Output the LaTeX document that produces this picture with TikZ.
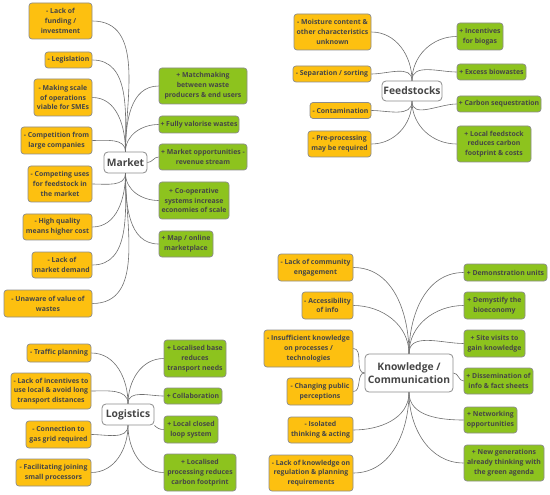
\documentclass[tikz,border=0pt]{standalone}
\usepackage{fontspec}
\setmainfont{Open Sans}
\definecolor{negfill}{HTML}{FDC010}
\definecolor{posfill}{HTML}{8DC31E}
\definecolor{boxline}{HTML}{8C8C8C}
\definecolor{txt}{HTML}{464646}
\definecolor{conncol}{HTML}{6E6E6E}
\tikzset{
  box/.style={draw=boxline, line width=0.7pt, rounded corners=3pt, align=center, inner sep=0pt,
    text=txt, font=\fontsize{6.9}{9.8}\selectfont\bfseries},
  negbox/.style={box, fill=negfill},
  posbox/.style={box, fill=posfill},
  hub/.style={draw=boxline, line width=0.8pt, rounded corners=4pt, fill=white, align=center, inner sep=0pt,
    text=txt, font=\fontsize{10.3}{13.5}\selectfont\bfseries},
  conn/.style={draw=conncol, line width=0.6pt},
  sz/.style 2 args={minimum width=#1pt, minimum height=#2pt}
}
\begin{document}
\begin{tikzpicture}[x=1pt,y=-1pt]
\useasboundingbox (0,0) rectangle (550,495);
% ---------------- Market ----------------
\node[hub, sz={43}{21}] (M) at (125.5,162.5) {Market};
\node[negbox, sz={63}{36}] (m1) at (60.5,21) {- Lack of\\funding /\\investment};
\node[negbox, sz={47}{16}] (m2) at (68.5,60) {- Legislation};
\node[negbox, sz={58}{37}] (m3) at (63,97.5) {- Making scale\\of operations\\viable for SMEs};
\node[negbox, sz={71}{27}] (m4) at (56.5,140.5) {- Competition from\\large companies};
\node[negbox, sz={64}{36}] (m5) at (60,184) {- Competing uses\\for feedstock in\\the market};
\node[negbox, sz={69}{26}] (m6) at (57.5,227) {- High quality\\means higher cost};
\node[negbox, sz={60}{26}] (m7) at (62,265) {- Lack of\\market demand};
\node[negbox, sz={88}{27}] (m8) at (48,303.5) {- Unaware of value of\\wastes};
\node[posbox, sz={88}{36}] (mp1) at (203,86) {+ Matchmaking\\between waste\\producers \& end users};
\node[posbox, sz={80}{17}] (mp2) at (199,124.5) {+ Fully valorise wastes};
\node[posbox, sz={88}{26}] (mp3) at (203,157) {+ Market opportunities -\\revenue stream};
\node[posbox, sz={70}{37}] (mp4) at (194,200.5) {+ Co-operative\\systems increase\\economies of scale};
\node[posbox, sz={54}{26}] (mp5) at (186,244) {+ Map / online\\marketplace};
\foreach \n in {m1,m2,m3,m4} \draw[conn] (\n.east) to[out=0,in=90] (M.north);
\foreach \n in {mp1,mp2} \draw[conn] (\n.west) to[out=180,in=90] (M.north);
\draw[conn] (mp3.west) to[out=180,in=0] (M.east);
\foreach \n in {m5,m6,m7,m8} \draw[conn] (\n.east) to[out=0,in=-90] (M.south);
\foreach \n in {mp4,mp5} \draw[conn] (\n.west) to[out=180,in=-90] (M.south);
% ---------------- Feedstocks ----------------
\node[hub, sz={60}{20}] (F) at (412,91) {Feedstocks};
\node[negbox, sz={77}{36}] (f1) at (332.5,32) {- Moisture content \&\\other characteristics\\unknown};
\node[negbox, sz={78}{16}] (f2) at (332,74) {- Separation / sorting};
\node[negbox, sz={61}{16}] (f3) at (340.5,110.5) {- Contamination};
\node[negbox, sz={63}{26}] (f4) at (339.5,144) {- Pre-processing\\may be required};
\node[posbox, sz={46}{27}] (fp1) at (480,36.5) {+ Incentives\\for biogas};
\node[posbox, sz={69}{16}] (fp2) at (491.5,72) {+ Excess biowastes};
\node[posbox, sz={84}{16}] (fp3) at (499,104) {+ Carbon sequestration};
\node[posbox, sz={74}{36}] (fp4) at (494,144) {+ Local feedstock\\reduces carbon\\footprint \& costs};
\foreach \n in {f1,f2} \draw[conn] (\n.east) to[out=0,in=90] (F.north);
\foreach \n in {fp1,fp2} \draw[conn] (\n.west) to[out=180,in=90] (F.north);
\foreach \n in {f3,f4} \draw[conn] (\n.east) to[out=0,in=-90] (F.south);
\foreach \n in {fp3,fp4} \draw[conn] (\n.west) to[out=180,in=-90] (F.south);
% ---------------- Logistics ----------------
\node[hub, sz={52}{21}] (L) at (128,414.5) {Logistics};
\node[negbox, sz={64}{18}] (l1) at (59,353) {- Traffic planning};
\node[negbox, sz={80}{36}] (l2) at (51,391) {- Lack of incentives to\\use local \& avoid long\\transport distances};
\node[negbox, sz={65}{27}] (l3) at (58.5,434.5) {- Connection to\\gas grid required};
\node[negbox, sz={75}{27}] (l4) at (53.5,472.5) {- Facilitating joining\\small processors};
\node[posbox, sz={62}{37}] (lp1) at (195,358.5) {+ Localised base\\reduces\\transport needs};
\node[posbox, sz={58}{16}] (lp2) at (193,396) {+ Collaboration};
\node[posbox, sz={54}{27}] (lp3) at (191,429.5) {+ Local closed\\loop system};
\node[posbox, sz={72}{37}] (lp4) at (200,472.5) {+ Localised\\processing reduces\\carbon footprint};
\foreach \n in {l1,l2} \draw[conn] (\n.east) to[out=0,in=90] (L.north);
\foreach \n in {lp1,lp2} \draw[conn] (\n.west) to[out=180,in=90] (L.north);
\draw[conn] (lp3.west) to[out=180,in=-45] (L.south east);
\foreach \n in {l3,l4} \draw[conn] (\n.east) to[out=0,in=-90] (L.south);
\draw[conn] (lp4.west) to[out=180,in=-90] (L.south);
% ---------------- Knowledge ----------------
\node[hub, sz={88}{38}] (K) at (409,373) {Knowledge /\\Communication};
\node[negbox, sz={75}{27}] (k1) at (315.5,267.5) {- Lack of community\\engagement};
\node[negbox, sz={51}{27}] (k2) at (327.5,305.5) {- Accessibility\\of info};
\node[negbox, sz={89}{37}] (k3) at (308.5,348.5) {- Insufficient knowledge\\on processes /\\technologies};
\node[negbox, sz={66}{27}] (k4) at (320,391.5) {- Changing public\\perceptions};
\node[negbox, sz={65}{26}] (k5) at (320.5,430) {- Isolated\\thinking \& acting};
\node[negbox, sz={84}{36}] (k6) at (311,473) {- Lack of knowledge on\\regulation \& planning\\requirements};
\node[posbox, sz={83}{17}] (kp1) at (505.5,272.5) {+ Demonstration units};
\node[posbox, sz={61}{27}] (kp2) at (494.5,305.5) {+ Demystify the\\bioeconomy};
\node[posbox, sz={61}{27}] (kp3) at (494.5,343.5) {+ Site visits to\\gain knowledge};
\node[posbox, sz={69}{26}] (kp4) at (498.5,381) {+ Dissemination of\\info \& fact sheets};
\node[posbox, sz={53}{26}] (kp5) at (490.5,420) {+ Networking\\opportunities};
\node[posbox, sz={80}{36}] (kp6) at (504,463) {+ New generations\\already thinking with\\the green agenda};
\foreach \n in {k1,k2} \draw[conn] (\n.east) to[out=0,in=90] (K.north);
\foreach \n in {kp1,kp2,kp3} \draw[conn] (\n.west) to[out=180,in=90] (K.north);
\foreach \n in {k3,k4} \draw[conn] (\n.east) to[out=0,in=180] (K.west);
\draw[conn] (kp4.west) to[out=180,in=0] (K.east);
\foreach \n in {k5,k6} \draw[conn] (\n.east) to[out=0,in=-90] (K.south);
\foreach \n in {kp5,kp6} \draw[conn] (\n.west) to[out=180,in=-90] (K.south);
\end{tikzpicture}
\end{document}
